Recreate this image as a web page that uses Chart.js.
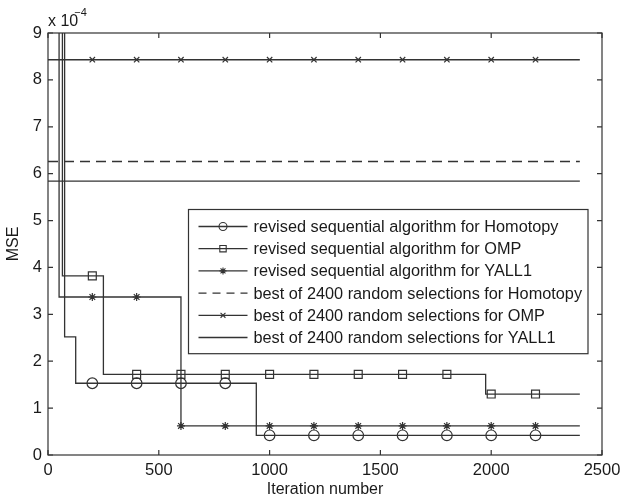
<!DOCTYPE html>
<html>
<head>
<meta charset="utf-8">
<script src="https://cdn.jsdelivr.net/npm/chart.js@4/dist/chart.umd.min.js"></script>
<style>
  html, body { margin: 0; padding: 0; background: #fff; }
  canvas { display: block; }
</style>
</head>
<body>
<canvas id="mseChart" width="622" height="499"></canvas>
<script>
// MSE values are in units of 1e-4
const xTicks = [0, 500, 1000, 1500, 2000, 2500];
const yTicks = [0, 1, 2, 3, 4, 5, 6, 7, 8, 9];
const markX = [200, 400, 600, 800, 1000, 1200, 1400, 1600, 1800, 2000, 2200];
const lastIter = 2400;

// revised sequential algorithms: iteration where each level starts, and the level
const homStepX = [0, 75, 125, 940];
const homStepY = [15, 2.52, 1.53, 0.42];
const ompStepX = [0, 65, 250, 1975];
const ompStepY = [15, 3.82, 1.72, 1.30];
const yallStepX = [0, 50, 600];
const yallStepY = [15, 3.37, 0.62];

// best of 2400 random selections
const bestHom = 6.26;
const bestOmp = 8.43;
const bestYall = 5.84;

const seriesLabels = [
    'revised sequential algorithm for Homotopy',
    'revised sequential algorithm for OMP',
    'revised sequential algorithm for YALL1',
    'best of 2400 random selections for Homotopy',
    'best of 2400 random selections for OMP',
    'best of 2400 random selections for YALL1'
];

const fontFamily = '"Liberation Sans", Arial, Helvetica, sans-serif';
const lineColor = '#333';
const textColor = '#1a1a1a';

function stepLine(xs, ys) {
    const pts = [];
    xs.forEach((x, i) => {
        if (i > 0) pts.push({ x: x, y: ys[i - 1] });
        pts.push({ x: x, y: ys[i] });
    });
    pts.push({ x: lastIter, y: ys[ys.length - 1] });
    return pts;
}

function levelAt(xs, ys, x) {
    let v = ys[0];
    xs.forEach((s, i) => { if (x >= s) v = ys[i]; });
    return v;
}

function flatLine(v) {
    return [{ x: 0, y: v }, { x: lastIter, y: v }];
}

// legend entries: marker style and dash per series
const legendStyles = [
    { marker: 'circle', dash: [] },
    { marker: 'rect', dash: [] },
    { marker: 'star', dash: [] },
    { marker: null, dash: [8, 6] },
    { marker: 'crossRot', dash: [] },
    { marker: null, dash: [] }
];

function lineSet(label, data, dash) {
    return {
        label: label, data: data, borderColor: lineColor, borderWidth: 1.3,
        borderDash: dash || [], pointRadius: 0, fill: false, tension: 0
    };
}

function markSet(data, style, radius) {
    return {
        label: '', data: data, showLine: false, pointStyle: style,
        pointRadius: radius, pointBorderColor: lineColor, pointBorderWidth: 1.2,
        pointBackgroundColor: 'rgba(0,0,0,0)'
    };
}

const datasets = [
    lineSet(seriesLabels[0], stepLine(homStepX, homStepY)),
    lineSet(seriesLabels[1], stepLine(ompStepX, ompStepY)),
    lineSet(seriesLabels[2], stepLine(yallStepX, yallStepY)),
    lineSet(seriesLabels[3], flatLine(bestHom), [10, 6]),
    lineSet(seriesLabels[4], flatLine(bestOmp)),
    lineSet(seriesLabels[5], flatLine(bestYall)),
    markSet(markX.map(x => ({ x: x, y: levelAt(homStepX, homStepY, x) })), 'circle', 5.3),
    markSet(markX.map(x => ({ x: x, y: levelAt(ompStepX, ompStepY, x) })), 'rect', 5.6),
    markSet(markX.map(x => ({ x: x, y: levelAt(yallStepX, yallStepY, x) })), 'star', 4),
    markSet(markX.map(x => ({ x: x, y: bestOmp })), 'crossRot', 3.8)
];

function drawMarker(ctx, style, x, y, r) {
    ctx.beginPath();
    if (style === 'circle') {
        ctx.arc(x, y, r, 0, Math.PI * 2);
    } else if (style === 'rect') {
        ctx.rect(x - r, y - r, 2 * r, 2 * r);
    } else if (style === 'star' || style === 'crossRot') {
        ctx.moveTo(x - r * 0.7, y - r * 0.7); ctx.lineTo(x + r * 0.7, y + r * 0.7);
        ctx.moveTo(x - r * 0.7, y + r * 0.7); ctx.lineTo(x + r * 0.7, y - r * 0.7);
        if (style === 'star') {
            ctx.moveTo(x, y - r); ctx.lineTo(x, y + r);
            ctx.moveTo(x - r, y); ctx.lineTo(x + r, y);
        }
    }
    ctx.stroke();
}

// box, inward ticks, exponent label and the legend
const axesBox = {
    id: 'axesBox',
    afterDraw(chart) {
        const { ctx, chartArea: a, scales: { x, y } } = chart;
        ctx.save();
        ctx.strokeStyle = lineColor;
        ctx.lineWidth = 1.2;
        ctx.strokeRect(a.left, a.top, a.right - a.left, a.bottom - a.top);
        ctx.beginPath();
        xTicks.forEach(v => {
            const px = x.getPixelForValue(v);
            ctx.moveTo(px, a.bottom); ctx.lineTo(px, a.bottom - 5);
            ctx.moveTo(px, a.top); ctx.lineTo(px, a.top + 5);
        });
        yTicks.forEach(v => {
            const py = y.getPixelForValue(v);
            ctx.moveTo(a.left, py); ctx.lineTo(a.left + 5, py);
            ctx.moveTo(a.right, py); ctx.lineTo(a.right - 5, py);
        });
        ctx.stroke();

        ctx.fillStyle = textColor;
        ctx.textBaseline = 'alphabetic';
        ctx.textAlign = 'left';
        ctx.font = '16px ' + fontFamily;
        ctx.fillText('x 10', a.left, a.top - 7);
        const w = ctx.measureText('x 10').width;
        ctx.font = '11px ' + fontFamily;
        ctx.fillText('\u22124', a.left + w - 4, a.top - 17);

        // legend
        ctx.font = '16.3px ' + fontFamily;
        const maxW = Math.max(...seriesLabels.map(s => ctx.measureText(s).width));
        const rowH = 22.2;
        const right = a.right - 14;
        const top = 209.5;
        const left = Math.round(right - (10 + 49 + 6 + maxW + 6)) + 0.5;
        const height = rowH * seriesLabels.length + 11;
        ctx.fillStyle = '#fff';
        ctx.fillRect(left, top, right - left, height);
        ctx.lineWidth = 1.2;
        ctx.strokeRect(left, top, right - left, height);
        ctx.textBaseline = 'middle';
        seriesLabels.forEach((label, i) => {
            const cy = top + 17 + i * rowH;
            const st = legendStyles[i];
            ctx.strokeStyle = lineColor;
            ctx.lineWidth = 1.3;
            ctx.setLineDash(st.dash);
            ctx.beginPath();
            ctx.moveTo(left + 10, cy); ctx.lineTo(left + 59, cy);
            ctx.stroke();
            ctx.setLineDash([]);
            if (st.marker) {
                ctx.lineWidth = 1.1;
                const r = st.marker === 'circle' ? 4 : st.marker === 'rect' ? 3.2 : 3.5;
                drawMarker(ctx, st.marker, left + 34.5, cy, r);
            }
            ctx.fillStyle = textColor;
            ctx.fillText(label, left + 65, cy + 1);
        });
        ctx.restore();
    }
};

new Chart(document.getElementById('mseChart'), {
    type: 'line',
    data: { datasets: datasets },
    options: {
        responsive: false,
        animation: false,
        devicePixelRatio: 1,
        layout: { padding: { left: 0, right: 20, top: 33, bottom: 0 } },
        plugins: { legend: { display: false }, tooltip: { enabled: false } },
        scales: {
            x: {
                type: 'linear', min: 0, max: 2500,
                afterFit(scale) {
                    scale.height = 44;
                    scale.paddingLeft = 0;
                    scale.paddingRight = 0;
                },
                grid: { display: false, drawTicks: false },
                border: { display: false },
                ticks: {
                    stepSize: 500, padding: 6, color: textColor, maxRotation: 0,
                    callback: v => String(v),
                    font: { family: fontFamily, size: 16.5 }
                },
                title: {
                    display: true, text: 'Iteration number', color: textColor,
                    padding: { top: 0, bottom: 0 },
                    font: { family: fontFamily, size: 16 }
                }
            },
            y: {
                type: 'linear', min: 0, max: 9,
                afterFit(scale) { scale.width = 48; },
                grid: { display: false, drawTicks: false },
                border: { display: false },
                ticks: {
                    stepSize: 1, padding: 6, color: textColor,
                    callback: v => String(v),
                    font: { family: fontFamily, size: 16.5 }
                },
                title: {
                    display: true, text: 'MSE', color: textColor,
                    padding: { top: 4, bottom: 0 },
                    font: { family: fontFamily, size: 16 }
                }
            }
        }
    },
    plugins: [axesBox]
});
</script>
</body>
</html>
